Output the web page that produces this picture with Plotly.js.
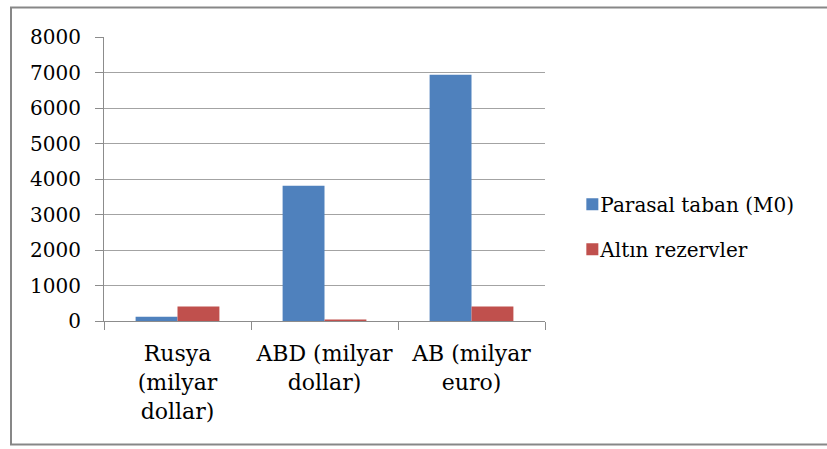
<!DOCTYPE html>
<html>
<head>
<meta charset="utf-8">
<script src="https://cdn.plot.ly/plotly-3.0.1.min.js"></script>
<style>html,body{margin:0;padding:0;background:#fff;}#chart{width:827px;height:449px;}</style>
</head>
<body>
<div id="chart"></div>
<script>
const categories = ["Rusya<br>(milyar<br>dollar)", "ABD (milyar<br>dollar)", "AB (milyar<br>euro)"];
const seriesNames = ["Parasal taban (M0)", "Altın rezervler"];
const parasalTaban = [120, 3810, 6940];
const altinRezervler = [405, 40, 410];
const yTicks = [0, 1000, 2000, 3000, 4000, 5000, 6000, 7000, 8000];

const fontFam = "DejaVu Serif";
const traces = [
  {type: "bar", name: seriesNames[0], x: categories, y: parasalTaban,
   marker: {color: "#4F81BD"}, legendgroup: "a", hoverinfo: "none"},
  {type: "bar", name: seriesNames[1], x: categories, y: altinRezervler,
   marker: {color: "#C0504D"}, legendgroup: "b", hoverinfo: "none"}
];

const layout = {
  width: 827, height: 449,
  margin: {l: 104, r: 282, t: 37, b: 128, autoexpand: false},
  paper_bgcolor: "#ffffff", plot_bgcolor: "#ffffff",
  font: {family: fontFam, size: 20, color: "#000000"},
  barmode: "group", bargap: 0.43, bargroupgap: 0,
  showlegend: true,
  legend: {x: 1.062, y: 0.332, xanchor: "left", yanchor: "middle",
           font: {family: fontFam, size: 20, color: "#000"}, tracegroupgap: 16,
           bgcolor: "rgba(0,0,0,0)", itemwidth: 30},
  xaxis: {type: "category", tickson: "boundaries", ticks: "outside", ticklen: 8,
          tickcolor: "#8c8c8c", showline: true, linecolor: "#8c8c8c", linewidth: 1,
          showgrid: false, ticklabelstandoff: 13, tickangle: 0,
          tickfont: {family: fontFam, size: 22, color: "#000"}, fixedrange: true},
  yaxis: {range: [0, 8000], tickvals: yTicks, ticks: "outside", ticklen: 8,
          tickcolor: "#8c8c8c", showline: true, linecolor: "#8c8c8c", linewidth: 1,
          showgrid: true, gridcolor: "#a3a3a3", gridwidth: 1, zeroline: false,
          ticklabelstandoff: 10, tickfont: {family: fontFam, size: 20, color: "#000"}, fixedrange: true},
  shapes: [{type: "rect", xref: "paper", yref: "paper",
            x0: (11 - 104) / 441, x1: (835 - 104) / 441,
            y0: (320.5 - 444) / 284, y1: (320.5 - 7) / 284,
            line: {color: "#878787", width: 2}, fillcolor: "rgba(0,0,0,0)", layer: "below"}]
};

Plotly.newPlot("chart", traces, layout, {staticPlot: true, displayModeBar: false}).then(function () {
  document.querySelectorAll(".legendtext").forEach(function (t) {
    const prev = t.getAttribute("transform") || "";
    t.setAttribute("transform", prev + " translate(-12,0)");
  });
});
</script>
</body>
</html>
